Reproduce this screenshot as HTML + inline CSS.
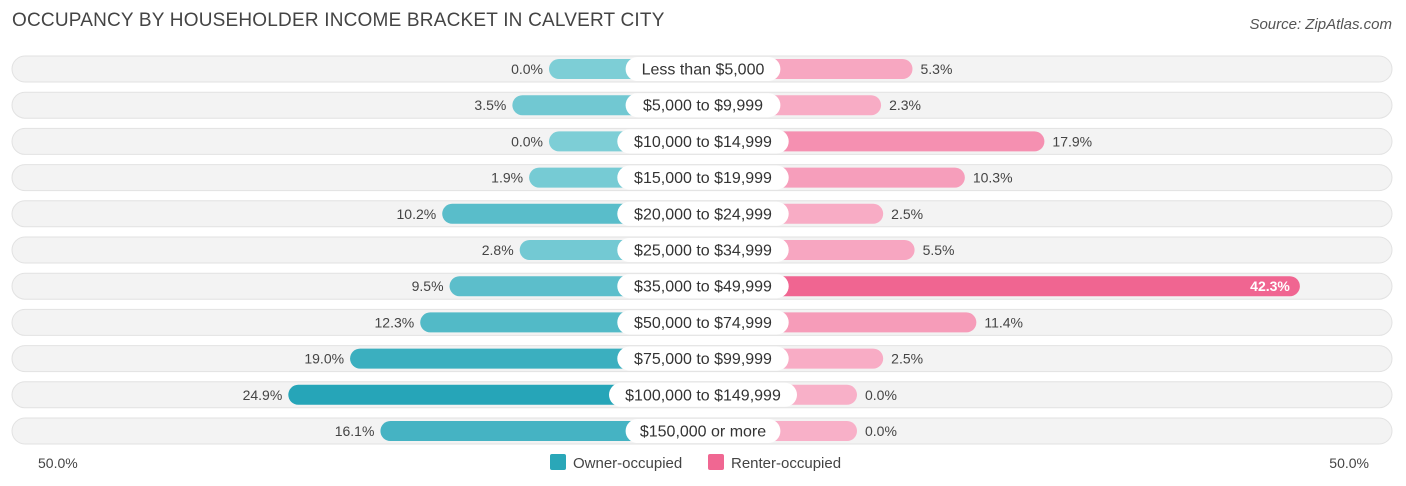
<!DOCTYPE html>
<html><head><meta charset="utf-8"><style>
body{margin:0;width:1406px;height:486px;background:#fff;font-family:"Liberation Sans",sans-serif;overflow:hidden;position:relative}
.t{position:absolute;left:12px;top:10px;font-size:19px;color:#444;letter-spacing:.2px}
.s{position:absolute;right:14px;top:16px;font-size:15px;color:#555;font-style:italic}
</style></head><body>
<div class="t">OCCUPANCY BY HOUSEHOLDER INCOME BRACKET IN CALVERT CITY</div>
<div class="s">Source: ZipAtlas.com</div>
<svg id="c" width="1406" height="486" style="position:absolute;left:0;top:0"></svg>
<script>
const categories=["Less than $5,000","$5,000 to $9,999","$10,000 to $14,999","$15,000 to $19,999","$20,000 to $24,999","$25,000 to $34,999","$35,000 to $49,999","$50,000 to $74,999","$75,000 to $99,999","$100,000 to $149,999","$150,000 or more"];
const owner=[0.0,3.5,0.0,1.9,10.2,2.8,9.5,12.3,19.0,24.9,16.1];
const renter=[5.3,2.3,17.9,10.3,2.5,5.5,42.3,11.4,2.5,0.0,0.0];
const axisLabels=["50.0%","50.0%"];
const NS="http://www.w3.org/2000/svg";
const svg=document.getElementById('c');
const cx=703,off=154,k=10.47,y0=69,dy=36.2;
function xl(v){return cx-off-v*k}
function xr(v){return cx+off+v*k}
function yc(i){return y0+i*dy}
function mk(t,a,txt){const e=document.createElementNS(NS,t);for(const n in a)e.setAttribute(n,a[n]);if(txt!=null)e.textContent=txt;svg.appendChild(e);return e}
function mix(a,b,t){return 'rgb('+a.map((x,i)=>Math.round(x+(b[i]-x)*t)).join(',')+')'}
const maxO=Math.max(...owner),maxR=Math.max(...renter);
categories.forEach((c,i)=>{
 const y=yc(i);
 let e=mk('rect',{x:12,y:y-13,width:1380,height:26,rx:13,fill:'#f3f3f3',stroke:'#e2e2e2'});
 
 e=mk('rect',{x:xl(owner[i]),y:y-10,width:cx-xl(owner[i]),height:20,rx:10,fill:mix([125,206,214],[38,165,184],owner[i]/maxO)});
 
 e=mk('rect',{x:cx,y:y-10,width:xr(renter[i])-cx,height:20,rx:10,fill:mix([248,176,200],[240,101,145],renter[i]/maxR)});
 
 const w=c.length*8.3+22;
 e=mk('rect',{x:cx-w/2,y:y-12,width:w,height:24,rx:12,fill:'#fff'});
 
 e=mk('text',{x:cx,y:y+5.5,'text-anchor':'middle','font-size':16,fill:'#333'},c);
 
 e=mk('text',{x:xl(owner[i])-6,y:y+5,'text-anchor':'end','font-size':14,fill:'#444'},owner[i].toFixed(1)+'%');
 
 const inside=renter[i]>30;
 e=mk('text',{x:inside?xr(renter[i])-10:xr(renter[i])+8,y:y+5,'text-anchor':inside?'end':'start','font-size':14,fill:inside?'#fff':'#444','font-weight':inside?'bold':'normal'},renter[i].toFixed(1)+'%');
 
});
let e=mk('text',{x:38,y:468,'font-size':14,fill:'#444'},axisLabels[0]);

e=mk('text',{x:1369,y:468,'text-anchor':'end','font-size':14,fill:'#444'},axisLabels[1]);

e=mk('rect',{x:550,y:454,width:16,height:16,rx:2,fill:'#2aa7b8'});

e=mk('text',{x:573,y:468,'font-size':15,fill:'#444'},'Owner-occupied');

e=mk('rect',{x:708,y:454,width:16,height:16,rx:2,fill:'#f06792'});

e=mk('text',{x:731,y:468,'font-size':15,fill:'#444'},'Renter-occupied');

</script>
</body></html>
